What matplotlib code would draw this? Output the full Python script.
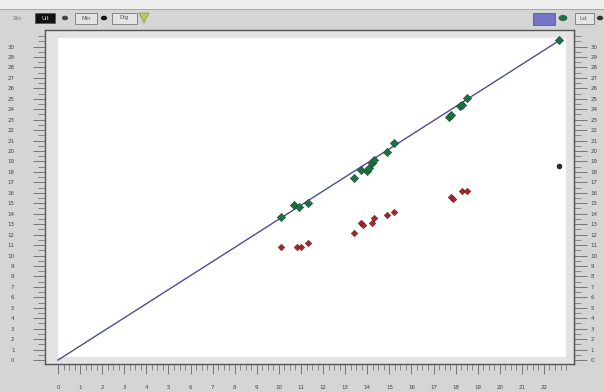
import matplotlib
matplotlib.use("Agg")
import matplotlib.pyplot as plt
from matplotlib.patches import Rectangle, Circle, Polygon

# points (x in the bottom units, y in the left units)
green_x = [10.1, 10.7, 10.9, 11.3, 13.4, 13.7, 14.0, 14.1, 14.2, 14.3, 14.9, 15.2, 17.7, 17.8, 18.2, 18.3, 18.5, 22.7]
green_y = [13.7, 14.8, 14.6, 15.0, 17.4, 18.2, 18.1, 18.4, 18.9, 19.1, 19.9, 20.8, 23.3, 23.4, 24.3, 24.4, 25.1, 30.6]
red_x = [10.1, 10.8, 11.0, 11.3, 13.4, 13.7, 13.8, 14.2, 14.3, 14.9, 15.2, 17.8, 17.9, 18.3, 18.5]
red_y = [10.8, 10.8, 10.8, 11.2, 12.2, 13.1, 12.9, 13.1, 13.6, 13.9, 14.2, 15.6, 15.4, 16.2, 16.2]
odd_x = [22.7]
odd_y = [18.6]
line_x = [0, 22.75]
line_y = [0, 30.65]
x_ticks = list(range(0, 23))
y_ticks = list(range(0, 31))

W, H = 604, 392
fig = plt.figure(figsize=(W / 100, H / 100), dpi=100)
fig.patch.set_facecolor("#d5d5d5")


def fx(px):
    return px / W


def fy(py):
    return 1 - py / H


def box(x0, y0, x1, y1, **kw):
    fig.add_artist(Rectangle((fx(x0), fy(y1)), fx(x1) - fx(x0), fy(y0) - fy(y1),
                             transform=fig.transFigure, **kw))


# toolbar strip
box(0, 0, W, 9, facecolor="#eeeeee", edgecolor="none")
box(0, 9, W, 10, facecolor="#a8a8a8", edgecolor="none")
fig.text(fx(17), fy(18), "Sto", fontsize=4, color="#777777", ha="center", va="center")
box(35, 13, 55, 23, facecolor="#111111", edgecolor="#555555", lw=0.6)
fig.text(fx(45), fy(18), "Ult", fontsize=4, color="#dddddd", ha="center", va="center")
fig.add_artist(Circle((fx(65), fy(18)), 0.004, transform=fig.transFigure, color="#444444"))
box(75, 13, 97, 24, facecolor="#e4e4e4", edgecolor="#777777", lw=0.6)
fig.text(fx(86), fy(18), "Min", fontsize=4, color="#555555", ha="center", va="center")
fig.add_artist(Circle((fx(104), fy(18)), 0.004, transform=fig.transFigure, color="#111111"))
box(112, 13, 137, 24, facecolor="#e4e4e4", edgecolor="#777777", lw=0.6)
fig.text(fx(124), fy(18), "Dig", fontsize=4, color="#555555", ha="center", va="center")
fig.add_artist(Polygon([(fx(139), fy(13)), (fx(149), fy(13)), (fx(144), fy(23))],
                       transform=fig.transFigure, facecolor="#b8c860", edgecolor="#8a9a40", lw=0.5))
box(533, 13, 555, 25, facecolor="#7474c4", edgecolor="#5a5aa0", lw=0.6)
fig.add_artist(Circle((fx(563), fy(18)), 0.006, transform=fig.transFigure, color="#2a6a3a"))
box(575, 13, 594, 24, facecolor="#e4e4e4", edgecolor="#777777", lw=0.6)
fig.text(fx(584), fy(18), "Lst", fontsize=4, color="#555555", ha="center", va="center")
fig.add_artist(Circle((fx(600), fy(18)), 0.004, transform=fig.transFigure, color="#333333"))

# plot frame: axes covers the gray frame, white panel inside
left, right, top, bottom = 45, 574, 30, 364
ax = fig.add_axes([fx(left), fy(bottom), fx(right) - fx(left), fy(top) - fy(bottom)])
ax.set_facecolor("#e3e3e3")
ax.add_patch(Rectangle((0.025, 0.021), 0.96, 0.955, transform=ax.transAxes,
                       facecolor="white", edgecolor="none", zorder=0))

ax.plot(line_x, line_y, color="#4d4d8f", lw=1.0, zorder=2, clip_on=False)
ax.scatter(green_x, green_y, s=18, marker="D", color="#1f7040", edgecolor="#0f4a28", lw=0.4, zorder=3)
ax.scatter(red_x, red_y, s=11, marker="D", color="#a3282c", edgecolor="#6a1a1a", lw=0.4, zorder=3)
ax.scatter(odd_x, odd_y, s=9, marker="o", color="#2a2a2a", zorder=3)

ax.set_xlim(-0.59, 23.36)
ax.set_ylim(-0.38, 31.58)

for s in ["left", "bottom", "right", "top"]:
    ax.spines[s].set_color("#555555")
    ax.spines[s].set_linewidth(1.0)

ax.set_xticks(x_ticks)
ax.set_xticks([v / 4 for v in range(0, 93)], minor=True)
ax.set_yticks(y_ticks)
ax.set_yticks([v / 2 for v in range(0, 63)], minor=True)
ax.tick_params(axis="both", which="both", colors="#666666", labelcolor="#444444", labelsize=4)
ax.tick_params(axis="x", which="major", length=7, width=0.6, pad=8)
ax.tick_params(axis="x", which="minor", length=4, width=0.5)
ax.tick_params(axis="y", which="major", length=9, width=0.6, pad=13)
ax.tick_params(axis="y", which="minor", length=5, width=0.5)

# same scale repeated on the right edge
ax2 = ax.secondary_yaxis("right")
ax2.set_yticks(y_ticks)
ax2.set_yticks([v / 2 for v in range(0, 63)], minor=True)
ax2.spines["right"].set_color("#555555")
ax2.tick_params(which="both", colors="#666666", labelcolor="#444444", labelsize=4)
ax2.tick_params(which="major", length=9, width=0.6, pad=3)
ax2.tick_params(which="minor", length=5, width=0.5)

fig.savefig("out.png", dpi=100, facecolor=fig.get_facecolor())
